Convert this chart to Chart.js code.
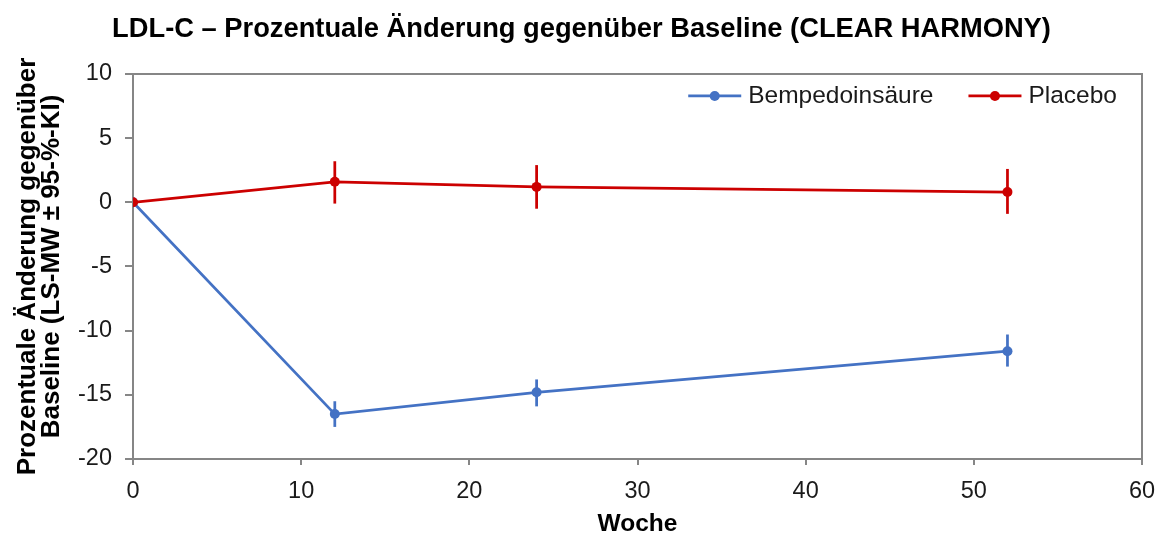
<!DOCTYPE html>
<html lang="de">
<head>
<meta charset="utf-8">
<title>LDL-C – Prozentuale Änderung gegenüber Baseline</title>
<script src="https://cdn.jsdelivr.net/npm/chart.js@4.4.1/dist/chart.umd.min.js"></script>
<style>
  html, body { margin: 0; padding: 0; background: #fff; }
  #wrap { position: relative; width: 1163px; height: 539px; }
</style>
</head>
<body>
<div id="wrap"><canvas id="ldlChart"></canvas></div>
<script>
// week of measurement
var WEEKS = [0, 12, 24, 52];

// LS mean % change from baseline with 95% CI bounds
var BEMPEDO_MEAN = [0, -16.5, -14.8, -11.6];
var BEMPEDO_LOW = [0, -17.5, -15.9, -12.8];
var BEMPEDO_HIGH = [0, -15.5, -13.8, -10.3];

var PLACEBO_MEAN = [0, 1.6, 1.2, 0.8];
var PLACEBO_LOW = [0, -0.1, -0.5, -0.9];
var PLACEBO_HIGH = [0, 3.2, 2.9, 2.6];

var X_TICKS = [0, 10, 20, 30, 40, 50, 60];
var Y_TICKS = [-20, -15, -10, -5, 0, 5, 10];

var SERIES_LABELS = ["Bempedoinsäure", "Placebo"];
var BLUE = "#4472C4";
var RED = "#CC0000";
var AXIS_GRAY = "#868686";
var FONT = '"Liberation Sans", Arial, sans-serif';

function toPoints(xs, ys) {
  return xs.map(function (x, i) {
    return { x: x, y: ys[i] };
  });
}

// vertical CI whiskers, no caps
var errorBars = {
  id: "errorBars",
  afterDatasetsDraw: function (chart) {
    var ctx = chart.ctx;
    var xs = chart.scales.x;
    var ys = chart.scales.y;
    chart.data.datasets.forEach(function (ds) {
      if (!ds.ciLow) return;
      ctx.save();
      ctx.strokeStyle = ds.borderColor;
      ctx.lineWidth = 2.75;
      ds.data.forEach(function (p, i) {
        if (ds.ciLow[i] === ds.ciHigh[i]) return;
        var px = xs.getPixelForValue(p.x);
        ctx.beginPath();
        ctx.moveTo(px, ys.getPixelForValue(ds.ciLow[i]));
        ctx.lineTo(px, ys.getPixelForValue(ds.ciHigh[i]));
        ctx.stroke();
      });
      ctx.restore();
    });
  },
};

// top and right edges of the plot frame
var plotFrame = {
  id: "plotFrame",
  afterDraw: function (chart) {
    var a = chart.chartArea;
    var ctx = chart.ctx;
    ctx.save();
    ctx.strokeStyle = AXIS_GRAY;
    ctx.lineWidth = 2;
    ctx.beginPath();
    ctx.moveTo(a.left, a.top);
    ctx.lineTo(a.right, a.top);
    ctx.lineTo(a.right, a.bottom);
    ctx.stroke();
    ctx.restore();
  },
};

// legend inside the plot, line + dot markers, right aligned
var lineLegend = {
  id: "lineLegend",
  afterDraw: function (chart) {
    var ctx = chart.ctx;
    var a = chart.chartArea;
    var dsets = chart.data.datasets;
    var cy = a.top + 22;
    var x = a.right - 25;
    ctx.save();
    ctx.font = "24.5px " + FONT;
    ctx.textBaseline = "middle";
    ctx.textAlign = "left";
    for (var i = dsets.length - 1; i >= 0; i--) {
      var ds = dsets[i];
      var w = ctx.measureText(ds.label).width;
      var tx = x - w;
      ctx.fillStyle = "#1a1a1a";
      ctx.fillText(ds.label, tx, cy);
      var lx1 = tx - 7;
      var lx0 = lx1 - 53;
      ctx.strokeStyle = ds.borderColor;
      ctx.lineWidth = 2.75;
      ctx.beginPath();
      ctx.moveTo(lx0, cy);
      ctx.lineTo(lx1, cy);
      ctx.stroke();
      ctx.fillStyle = ds.borderColor;
      ctx.beginPath();
      ctx.arc((lx0 + lx1) / 2, cy, 5, 0, Math.PI * 2);
      ctx.fill();
      x = lx0 - 35;
    }
    ctx.restore();
  },
};

new Chart(document.getElementById("ldlChart"), {
  type: "line",
  data: {
    datasets: [
      {
        label: SERIES_LABELS[0],
        data: toPoints(WEEKS, BEMPEDO_MEAN),
        ciLow: BEMPEDO_LOW,
        ciHigh: BEMPEDO_HIGH,
        borderColor: BLUE,
        backgroundColor: BLUE,
        pointBackgroundColor: BLUE,
        borderWidth: 2.75,
        pointRadius: 5,
        pointBorderWidth: 0,
        tension: 0,
        order: 1,
      },
      {
        label: SERIES_LABELS[1],
        data: toPoints(WEEKS, PLACEBO_MEAN),
        ciLow: PLACEBO_LOW,
        ciHigh: PLACEBO_HIGH,
        borderColor: RED,
        backgroundColor: RED,
        pointBackgroundColor: RED,
        borderWidth: 2.75,
        pointRadius: 5,
        pointBorderWidth: 0,
        tension: 0,
        order: 0,
      },
    ],
  },
  options: {
    responsive: true,
    maintainAspectRatio: false,
    animation: false,
    layout: { padding: 0 },
    plugins: {
      legend: { display: false },
      tooltip: { enabled: false },
      title: {
        display: true,
        text: "LDL-C – Prozentuale Änderung gegenüber Baseline (CLEAR HARMONY)",
        color: "#000",
        font: { family: FONT, size: 27.3, weight: "bold", lineHeight: 1.2 },
        padding: { top: 13, bottom: 28.2 },
      },
    },
    scales: {
      x: {
        type: "linear",
        min: X_TICKS[0],
        max: X_TICKS[X_TICKS.length - 1],
        afterBuildTicks: function (scale) {
          scale.ticks = X_TICKS.map(function (v) { return { value: v }; });
        },
        afterFit: function (scale) {
          scale.height = 80;
          scale.paddingLeft = 0;
          scale.paddingRight = 21;
        },
        border: { display: true, color: AXIS_GRAY, width: 2 },
        grid: { drawOnChartArea: false, drawTicks: true, tickLength: 6, color: AXIS_GRAY, lineWidth: 2 },
        ticks: { color: "#1a1a1a", font: { family: FONT, size: 23.5 }, padding: 12, maxRotation: 0 },
        title: {
          display: true,
          text: "Woche",
          color: "#000",
          font: { family: FONT, size: 24.5, weight: "bold", lineHeight: 1.2 },
          padding: { top: 0, bottom: 0 },
        },
      },
      y: {
        type: "linear",
        min: Y_TICKS[0],
        max: Y_TICKS[Y_TICKS.length - 1],
        afterBuildTicks: function (scale) {
          scale.ticks = Y_TICKS.map(function (v) { return { value: v }; });
        },
        afterFit: function (scale) { scale.width = 133; },
        border: { display: true, color: AXIS_GRAY, width: 2 },
        grid: { drawOnChartArea: false, drawTicks: true, tickLength: 8, color: AXIS_GRAY, lineWidth: 2 },
        ticks: { color: "#1a1a1a", font: { family: FONT, size: 23.5 }, padding: 13 },
        title: {
          display: true,
          text: ["Prozentuale Änderung gegenüber", "Baseline (LS-MW ± 95-%-KI)"],
          color: "#000",
          font: { family: FONT, size: 26, weight: "bold", lineHeight: 0.923 },
          padding: { top: 16, bottom: 0 },
        },
      },
    },
  },
  plugins: [errorBars, plotFrame, lineLegend],
});
</script>
</body>
</html>
